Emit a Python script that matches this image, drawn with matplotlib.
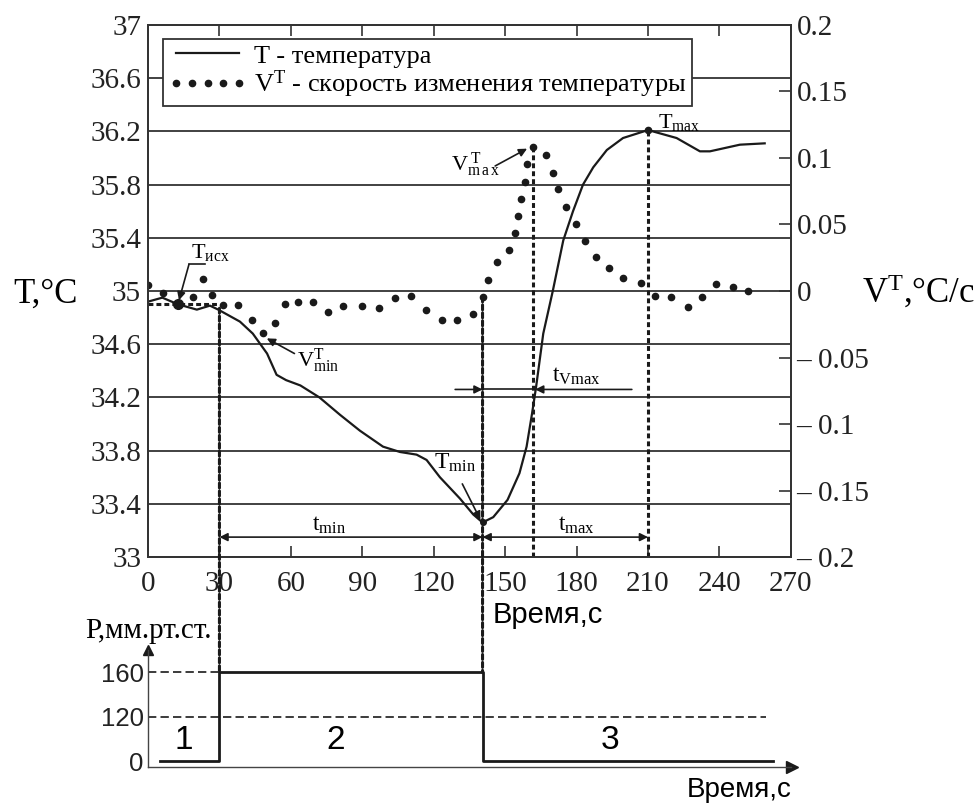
# Libraries
import numpy as np
import matplotlib
matplotlib.use('Agg')
import matplotlib.pyplot as plt
from matplotlib.patches import ConnectionPatch

# Plot parameters
plt.rcParams.update({
    'font.family': ['Liberation Serif', 'DejaVu Serif'],
    'mathtext.fontset': 'custom',
    'mathtext.rm': 'Liberation Serif',
    'mathtext.it': 'Liberation Serif:italic',
    'mathtext.bf': 'Liberation Serif:bold',
    'axes.linewidth': 1.0,
})

# Temperature curve (s, °C)
t_T = [0, 6, 12.6, 20.5, 26, 29.5, 38.6, 44, 50, 54, 58, 64, 72, 80.6, 89, 98.7,
       105.8, 112.8, 117, 122.6, 131, 136.6, 140.5, 145, 151, 156, 159, 161.3, 163,
       166, 170, 174.4, 178.5, 182.7, 187, 192.7, 199.5, 210, 222, 231.8, 236, 248.6, 259]
T = [34.92, 34.95, 34.90, 34.86, 34.89, 34.86, 34.77, 34.68, 34.53, 34.37, 34.33,
     34.29, 34.20, 34.07, 33.95, 33.83, 33.79, 33.77, 33.73, 33.60, 33.44, 33.32,
     33.26, 33.30, 33.43, 33.63, 33.83, 34.08, 34.28, 34.68, 35.00, 35.38, 35.60,
     35.80, 35.93, 36.06, 36.15, 36.21, 36.15, 36.05, 36.05, 36.10, 36.11]

# Rate of temperature change (s, °C/s)
t_V = [0, 6.3, 19, 23.2, 26.8, 31.7, 38, 43.6, 48.4, 53.3, 57.5, 63, 69.4, 75.7,
       82, 89.7, 97, 103.7, 110.3, 116.7, 123.3, 129.7, 136.4, 140.5, 142.8, 146.4,
       151.5, 154, 155.3, 156.6, 158.3, 159.2, 161.7, 167, 170, 172, 175.5, 179.7,
       183.5, 188, 193.6, 199.5, 207, 212.9, 219.6, 226.7, 232.6, 238.5, 245.6, 251.9]
V = [0.0045, -0.0015, -0.0045, 0.009, -0.003, -0.0105, -0.0105, -0.022, -0.0316,
     -0.024, -0.0098, -0.0083, -0.0083, -0.016, -0.0113, -0.0113, -0.013, -0.0053,
     -0.0038, -0.014, -0.022, -0.022, -0.017, -0.0045, 0.0083, 0.0215, 0.031, 0.0436,
     0.0564, 0.069, 0.082, 0.0955, 0.108, 0.102, 0.089, 0.0765, 0.063, 0.050, 0.0376,
     0.0255, 0.0173, 0.0098, 0.006, -0.0038, -0.0045, -0.012, -0.0045, 0.0053, 0.003, 0.0]

# Characteristic points
t_ref, T_ref = 12.6, 34.90      # T_исх
t_cuff_on, T_cuff_on = 30, 34.87
t_min, T_min_val = 140.5, 33.26
V_at_tmin = -0.0045
t_vmax, V_max_val = 161.7, 0.108
t_max, T_max_val = 210, 36.21
t_vmin, V_min_val = 48.4, -0.0316

# Pressure protocol (s, mm Hg)
t_P = [5, 30, 30, 140.5, 140.5, 262.5]
P = [0, 0, 160, 160, 0, 0]
P_levels = [0, 120, 160]
P_ref_ends = [30, 259.5]   # ends of dashed 160 / 120 lines

# Axis ticks
x_ticks = list(range(0, 271, 30))
T_ticks = [33, 33.4, 33.8, 34.2, 34.6, 35, 35.4, 35.8, 36.2, 36.6, 37]
V_ticks = [-0.2, -0.15, -0.1, -0.05, 0, 0.05, 0.1, 0.15, 0.2]
V_labels = ['– 0.2', '– 0.15', '– 0.1', '– 0.05', '0', '0.05', '0.1', '0.15', '0.2']

ink = '#1a1a1a'
grey = '#333333'
vdash = (0, (1.6, 1.0))
sans = ['Liberation Sans', 'DejaVu Sans']

fig = plt.figure(figsize=(9.77, 8.05), dpi=100)
ax = fig.add_axes([0.1515, 0.308, 0.658, 0.661])
axr = ax.twinx()
ax2 = fig.add_axes([0.1515, 0.0472, 0.658, 0.1453])

# ---- main panel
ax.set_xlim(0, 270)
ax.set_ylim(33, 37)
axr.set_ylim(-0.2, 0.2)
ax.set_xticks(x_ticks)
ax.set_xticklabels([str(v) for v in x_ticks])
ax.set_yticks(T_ticks)
ax.set_yticklabels(['%g' % v for v in T_ticks])
axr.set_yticks(V_ticks)
axr.set_yticklabels(V_labels)
ax.grid(axis='y', color=grey, lw=1.3)
ax.set_axisbelow(True)
for a in (ax, axr):
    for s in a.spines.values():
        s.set_color(grey)
        s.set_linewidth(1.3)
ax.tick_params(axis='x', direction='in', length=8, width=1.2, color=grey, top=True,
               labelsize=21, labelcolor='#222222', pad=10)
ax.tick_params(axis='y', direction='in', length=0, labelsize=21, labelcolor='#222222', pad=5)
axr.tick_params(axis='y', direction='in', length=9, width=1.2, color=grey,
                labelsize=21, labelcolor='#222222', pad=4)

lT, = ax.plot(t_T, T, color=ink, lw=1.6, label='T - температура')
lV, = axr.plot(t_V, V, 'o', color=ink, ms=4.5, label=r'V$^{\mathrm{T}}$ - скорость изменения температуры')

# markers of characteristic points
ax.plot([t_ref], [T_ref], 'o', color=ink, ms=7)
ax.plot([t_min], [T_min_val], 'o', color=ink, ms=4)
ax.plot([t_max], [T_max_val], 'o', color=ink, ms=4.5)

# dashed guides
ax.plot([0, t_cuff_on], [T_ref, T_ref], color=ink, lw=2.2, ls=vdash)
axr.plot([t_vmax, t_vmax], [-0.2, V_max_val], color=ink, lw=2.2, ls=vdash)
ax.plot([t_max, t_max], [33, T_max_val], color=ink, lw=2.2, ls=vdash)

leg = ax.legend(handles=[lT, lV], loc='upper left', bbox_to_anchor=(0.023, 0.974),
                borderaxespad=0, fontsize=19, numpoints=5, handlelength=3.0,
                handletextpad=0.25, borderpad=0.2, labelspacing=0.05,
                fancybox=False, framealpha=1, edgecolor=grey)
leg.get_frame().set_linewidth(1.3)
leg.set_zorder(5)

# annotations
arrow = dict(arrowstyle='-|>', color=ink, lw=1.2, mutation_scale=12, shrinkA=0, shrinkB=0)
ax.text(26, 35.29, r'T$_{\mathrm{исх}}$', fontsize=16, ha='center', va='center')
ax.plot([17.2, 24], [35.2, 35.2], color=ink, lw=1.2)
ax.annotate('', xy=(13.0, 34.93), xytext=(17.2, 35.2), arrowprops=arrow)

ax.text(71.5, 34.48, r'V$^{\mathrm{T}}_{\mathrm{min}}$', fontsize=16, ha='center', va='center')
axr.annotate('', xy=(t_vmin + 1.5, V_min_val - 0.004), xytext=(61.5, 34.53),
             textcoords=ax.transData, arrowprops=arrow)

ax.text(129, 33.71, r'T$_{\mathrm{min}}$', fontsize=17, ha='center', va='center')
ax.annotate('', xy=(139.6, 33.28), xytext=(132, 33.55), arrowprops=arrow)

ax.text(137.5, 35.95, r'V$^{\ \mathrm{T}}_{\mathrm{m\,a\,x}}$', fontsize=16, ha='center', va='center')
axr.annotate('', xy=(t_vmax - 2.5, V_max_val - 0.001), xytext=(145.8, 35.94),
             textcoords=ax.transData, arrowprops=arrow)

ax.text(223, 36.27, r'T$_{\mathrm{max}}$', fontsize=16, ha='center', va='center')

# time intervals
dbl = dict(arrowstyle='<|-|>', color=ink, lw=1.2, mutation_scale=12, shrinkA=0, shrinkB=0)
ax.annotate('', xy=(t_cuff_on, 33.15), xytext=(t_min, 33.15), arrowprops=dbl)
ax.text(76, 33.24, r't$_{\mathrm{min}}$', fontsize=17, ha='center', va='center')
ax.annotate('', xy=(t_min, 33.15), xytext=(t_max, 33.15), arrowprops=dbl)
ax.text(180, 33.24, r't$_{\mathrm{max}}$', fontsize=17, ha='center', va='center')
ax.annotate('', xy=(t_min, 34.26), xytext=(129, 34.26), arrowprops=arrow)
ax.plot([t_min, t_vmax], [34.26, 34.26], color=ink, lw=1.2)
ax.annotate('', xy=(162.6, 34.26), xytext=(203.2, 34.26), arrowprops=arrow)
ax.text(180, 34.36, r't$_{\mathrm{Vmax}}$', fontsize=17, ha='center', va='center')

# axis captions
ax.text(-0.16, 0.493, 'T,°C', transform=ax.transAxes, fontsize=25, ha='center', va='center')
ax.text(1.11, 0.497, r'V$^{\mathrm{T}}$,°C/с', transform=ax.transAxes, fontsize=25,
        ha='left', va='center')
ax.set_xlabel('Время,с', fontsize=21, family=sans)
ax.xaxis.set_label_coords(0.622, -0.083)

# ---- pressure panel (schematic, non-uniform level spacing)
def p_fwd(p):
    p = np.asarray(p, dtype=float)
    return np.where(p <= 120, p / 120, 1 + (p - 120) / 40)

def p_inv(u):
    u = np.asarray(u, dtype=float)
    return np.where(u <= 1, u * 120, 120 + (u - 1) * 40)

ax2.set_yscale('function', functions=(p_fwd, p_inv))
ax2.set_xlim(0, 270)
ax2.set_ylim(-16, 180)
ax2.set_xticks([])
ax2.set_yticks(P_levels)
ax2.set_yticklabels([str(v) for v in P_levels])
ax2.tick_params(axis='y', length=0, pad=3, labelsize=18.5)
for lab in ax2.get_yticklabels():
    lab.set_family(sans)
    lab.set_color('#222222')
ax2.patch.set_visible(False)
for side in ('top', 'right'):
    ax2.spines[side].set_visible(False)
for side in ('left', 'bottom'):
    ax2.spines[side].set_color('#444444')
    ax2.spines[side].set_linewidth(1.0)
ax2.plot(1.002, -16, '>', color=ink, ms=9, transform=ax2.get_yaxis_transform(), clip_on=False)
ax2.plot(0, 1.0, '^', color=ink, ms=7, transform=ax2.get_xaxis_transform(), clip_on=False)

ax2.plot(t_P, P, color=ink, lw=2.0)
ax2.plot([0, P_ref_ends[0]], [160, 160], color=ink, lw=1.2, ls=(0, (5, 2.5)))
ax2.plot([0, P_ref_ends[1]], [120, 120], color=ink, lw=1.2, ls=(0, (5, 2.5)))

ax2.text(15, 55, '1', fontsize=24, ha='center', va='center', family=sans)
ax2.text(79, 55, '2', fontsize=24, ha='center', va='center', family=sans)
ax2.text(194, 55, '3', fontsize=24, ha='center', va='center', family=sans)
ax2.text(0.0, 1.16, 'P,мм.рт.ст.', transform=ax2.transAxes, fontsize=21,
         ha='center', va='center')
ax2.text(0.919, -0.255, 'Время,с', transform=ax2.transAxes, fontsize=20,
         ha='center', va='baseline', family=sans)

# vertical guides crossing both panels
for xa, ya, src in [(t_cuff_on, T_cuff_on, ax), (t_min, V_at_tmin, axr)]:
    con = ConnectionPatch(xyA=(xa, ya), coordsA=src.transData, xyB=(xa, 160),
                          coordsB=ax2.transData, color=ink, lw=2.2, ls=vdash)
    fig.add_artist(con)

plt.savefig('out.png', dpi=100)
